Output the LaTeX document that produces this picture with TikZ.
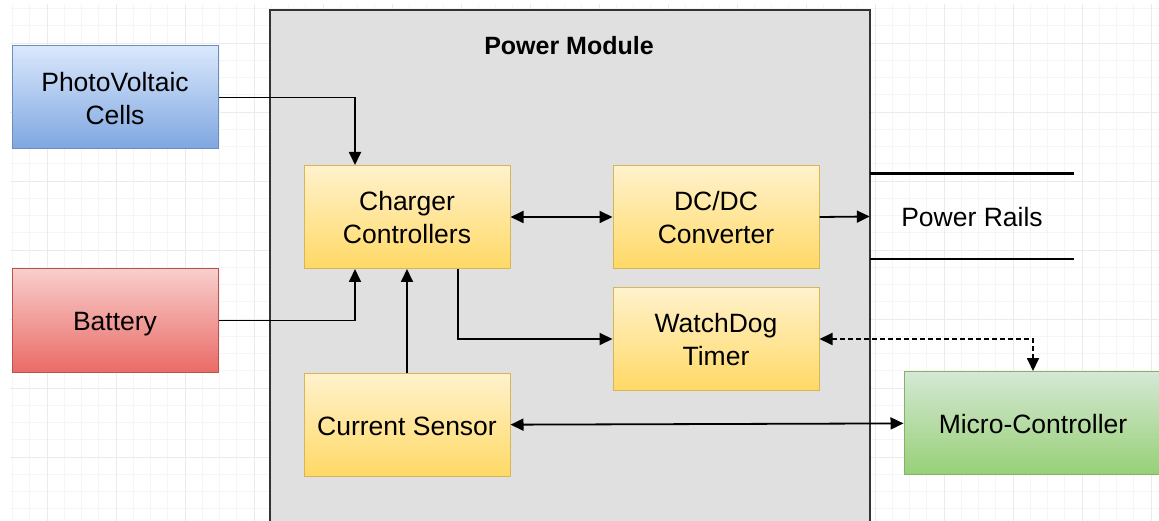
\documentclass[tikz,border=0pt]{standalone}
\usepackage{fontspec}
\setmainfont{Liberation Sans}
\usepackage{xcolor}
\usetikzlibrary{positioning,arrows.meta}

\definecolor{pvtop}{HTML}{DAE8FC}
\definecolor{pvbot}{HTML}{7EA6E0}
\definecolor{pvline}{HTML}{6C8EBF}
\definecolor{battop}{HTML}{F8CECC}
\definecolor{batbot}{HTML}{EA6B66}
\definecolor{batline}{HTML}{B85450}
\definecolor{ylwtop}{HTML}{FFF2CC}
\definecolor{ylwbot}{HTML}{FFD966}
\definecolor{ylwline}{HTML}{D6B656}
\definecolor{mcutop}{HTML}{D5E8D4}
\definecolor{mcubot}{HTML}{97D077}
\definecolor{mculine}{HTML}{82B366}
\definecolor{modfill}{HTML}{E0E0E0}
\definecolor{modline}{HTML}{333333}

\newcommand{\boxstrut}{\rule[-5.6pt]{0pt}{32pt}}

\begin{document}
\begin{tikzpicture}[
    x=1pt, y=1pt,
    block/.style={rectangle, draw=ylwline, top color=ylwtop, bottom color=ylwbot, line width=1pt,
                  align=center, minimum width=206pt, minimum height=103pt, inner sep=0pt,
                  font=\fontsize{26.5}{31.5}\selectfont},
    pvbox/.style={block, draw=pvline, top color=pvtop, bottom color=pvbot},
    batbox/.style={block, draw=batline, top color=battop, bottom color=batbot},
    mcubox/.style={block, draw=mculine, top color=mcutop, bottom color=mcubot, minimum width=258pt},
    arrow/.style={-{Triangle[length=13pt,width=12pt]}, line width=1.8pt},
    twoway/.style={{Triangle[length=13pt,width=12pt]}-{Triangle[length=13pt,width=12pt]}, line width=1.8pt},
    dasharrow/.style={twoway, dash pattern=on 5pt off 3pt},
    minorgrid/.style={draw=black!4, line width=0.8pt},
    majorgrid/.style={draw=black!8, line width=0.8pt}
]
\clip (0,0) rectangle (1159,-521);

\begin{scope}
  \clip (10,-5) rectangle (1159,-521);
  \foreach \x in {-22,-4.75,...,1165} \draw[minorgrid] (\x,0) -- (\x,-521);
  \foreach \y in {-26,-8.75,...,525} \draw[minorgrid] (0,-\y) -- (1159,-\y);
  \foreach \x in {-22,47,...,1165} \draw[majorgrid] (\x,0) -- (\x,-521);
  \foreach \y in {-26,43,...,525} \draw[majorgrid] (0,-\y) -- (1159,-\y);
\end{scope}

\node[rectangle, draw=modline, fill=modfill, line width=1.6pt, minimum width=600pt,
      minimum height=540pt, inner sep=0pt] (module) at (570,-280) {};
\node[font=\bfseries\fontsize{25}{30}\selectfont] (title) at (569,-46) {Power Module};

\node[block]                         (charger) at (407,-217) {\boxstrut Charger\\Controllers\boxstrut};
\node[block, right=102pt of charger] (dcdc)    {\boxstrut DC/DC\\Converter\boxstrut};
\node[block, below=18pt of dcdc]     (wdog)    {\boxstrut WatchDog\\Timer\boxstrut};
\node[block, below=104pt of charger] (sensor)  {\boxstrut Current Sensor};

\node[pvbox]  (pv)  at (115,-97.5)  {\boxstrut PhotoVoltaic\\Cells\boxstrut};
\node[batbox] (bat) at (115,-320.5) {\boxstrut Battery};
\node[mcubox] (mcu) at (1033,-423)  {\boxstrut Micro-Controller};

\node[minimum width=204pt, minimum height=85pt, inner sep=0pt,
      font=\fontsize{26.5}{31.5}\selectfont] (rails) at (972,-216.5) {\boxstrut Power Rails};
\draw[line width=2.6pt] (rails.north west) -- (rails.north east);
\draw[line width=2.6pt] (rails.south west) -- (rails.south east);

\draw[arrow] (pv.east) -| ([xshift=-52pt]charger.north);
\draw[arrow] (bat.east) -| ([xshift=-52pt]charger.south);
\draw[arrow] (sensor.north) -- (charger.south);
\draw[arrow] ([xshift=51pt]charger.south) |- (wdog.west);
\draw[twoway] (charger) -- (dcdc);
\draw[arrow] (dcdc.east) -- (rails.west);
\draw[twoway] (sensor) -- (mcu);
\draw[dasharrow] (wdog.east) -| (mcu.north);

\end{tikzpicture}
\end{document}
